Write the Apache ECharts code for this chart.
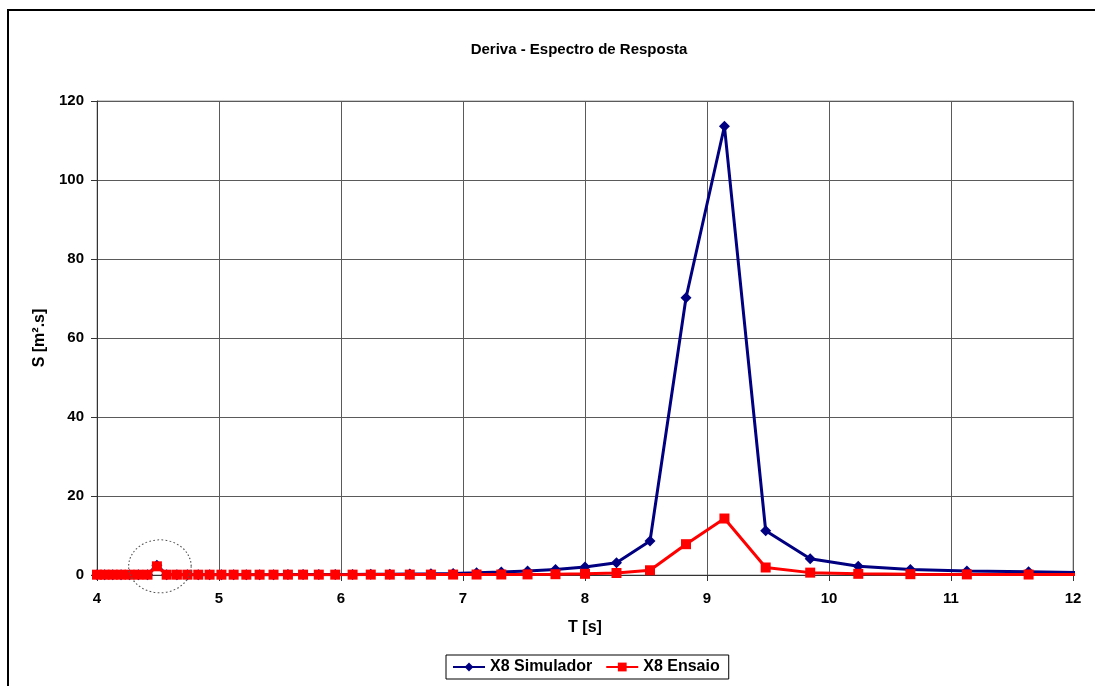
<!DOCTYPE html>
<html>
<head>
<meta charset="utf-8">
<title>Deriva - Espectro de Resposta</title>
<script src="https://cdn.jsdelivr.net/npm/echarts@6/dist/echarts.min.js"></script>
<style>
  html, body { margin: 0; padding: 0; background: #ffffff; }
  #chart { width: 1095px; height: 686px; }
</style>
</head>
<body>
<div id="chart"></div>
<script>
// Periods T [s] of the spectral estimates
const periods = [4.000, 4.063, 4.129, 4.197, 4.267, 4.339, 4.414, 4.491, 4.571, 4.655,
                 4.741, 4.830, 4.923, 5.020, 5.120, 5.224, 5.333, 5.447, 5.565, 5.689,
                 5.818, 5.953, 6.095, 6.244, 6.400, 6.564, 6.737, 6.919, 7.111, 7.314,
                 7.529, 7.758, 8.000, 8.258, 8.533, 8.828, 9.143, 9.481, 9.846, 10.240,
                 10.667, 11.130, 11.636, 12.190];

// Spectral density S [m².s] – simulator
const simulador = [0.05, 0.05, 0.05, 0.05, 0.05, 0.05, 0.06, 2.5, 0.06, 0.06,
                   0.06, 0.07, 0.07, 0.07, 0.08, 0.08, 0.09, 0.09, 0.10, 0.11,
                   0.12, 0.13, 0.15, 0.17, 0.20, 0.24, 0.29, 0.38, 0.55, 0.75,
                   1.0, 1.4, 2.0, 3.1, 8.6, 70.2, 113.6, 11.2, 4.1, 2.2,
                   1.4, 1.0, 0.8, 0.6];

// Spectral density S [m².s] – model test
const ensaio = [0.08, 0.08, 0.08, 0.08, 0.08, 0.08, 0.08, 2.2, 0.08, 0.08,
                0.08, 0.08, 0.08, 0.08, 0.08, 0.08, 0.08, 0.08, 0.09, 0.09,
                0.09, 0.09, 0.09, 0.10, 0.10, 0.10, 0.10, 0.11, 0.12, 0.13,
                0.15, 0.20, 0.30, 0.50, 1.2, 7.8, 14.3, 1.9, 0.6, 0.3,
                0.2, 0.15, 0.12, 0.1];

const seriesNames = ['X8 Simulador', 'X8 Ensaio'];
const xTicks = { min: 4, max: 12, step: 1 };
const yTicks = { min: 0, max: 120, step: 20 };

const FONT = '"Liberation Sans", Arial, sans-serif';

const chart = echarts.init(document.getElementById('chart'), null, { renderer: 'canvas' });

const textBold = { fontFamily: FONT, fontSize: 15, fontWeight: 'bold', color: '#000' };
const textBoldLarge = Object.assign({}, textBold, { fontSize: 16 });

chart.setOption({
  animation: false,
  backgroundColor: '#ffffff',
  title: {
    text: 'Deriva - Espectro de Resposta',
    left: 574,
    textAlign: 'center',
    top: 37,
    textStyle: textBold
  },
  legend: {
    data: seriesNames,
    left: 446,
    top: 655,
    itemWidth: 32,
    itemHeight: 11,
    itemGap: 13,
    padding: [4, 9, 4, 6],
    borderColor: '#000',
    borderWidth: 1,
    textStyle: textBoldLarge
  },
  grid: {
    left: 97,
    right: 22,
    top: 101,
    bottom: 111,
    show: true,
    borderColor: '#9a9a9a',
    borderWidth: 1
  },
  xAxis: {
    type: 'value',
    min: xTicks.min,
    max: xTicks.max,
    interval: xTicks.step,
    name: 'T [s]',
    nameLocation: 'middle',
    nameGap: 45,
    nameTextStyle: textBoldLarge,
    axisLine: { show: true, onZero: false, lineStyle: { color: '#333', width: 1 } },
    axisTick: { show: true, inside: false, length: 6, lineStyle: { color: '#333' } },
    axisLabel: Object.assign({ margin: 16 }, textBold),
    splitLine: { show: true, lineStyle: { color: '#5a5a5a', width: 1 } }
  },
  yAxis: {
    type: 'value',
    min: yTicks.min,
    max: yTicks.max,
    interval: yTicks.step,
    name: 'S [m².s]',
    nameLocation: 'middle',
    nameGap: 48,
    nameRotate: 90,
    nameTextStyle: textBoldLarge,
    axisLine: { show: true, lineStyle: { color: '#333', width: 1 } },
    axisTick: { show: true, inside: false, length: 6, lineStyle: { color: '#333' } },
    axisLabel: Object.assign({ margin: 13 }, textBold),
    splitLine: { show: true, lineStyle: { color: '#5a5a5a', width: 1 } }
  },
  series: [
    {
      name: seriesNames[0],
      type: 'line',
      data: periods.map((t, i) => [t, simulador[i]]),
      symbol: 'diamond',
      symbolSize: 11,
      showAllSymbol: true,
      clip: true,
      z: 2,
      itemStyle: { color: '#000080' },
      lineStyle: { color: '#000080', width: 3 }
    },
    {
      name: seriesNames[1],
      type: 'line',
      data: periods.map((t, i) => [t, ensaio[i]]),
      symbol: 'rect',
      symbolSize: 10,
      showAllSymbol: true,
      clip: true,
      z: 3,
      itemStyle: { color: '#ff0000' },
      lineStyle: { color: '#ff0000', width: 3 }
    }
  ]
});

// Chart frame (open on the right and bottom edges of the page) and the
// dotted ring highlighting the small test peak near T = 4.5 s
const peakIdx = ensaio.indexOf(Math.max(...ensaio.slice(0, 10)));
const peakPx = chart.convertToPixel({ gridIndex: 0 }, [periods[peakIdx], ensaio[peakIdx]]);

chart.setOption({
  graphic: [
    {
      type: 'rect',
      silent: true,
      shape: { x: 8, y: 10, width: 1200, height: 1000 },
      style: { fill: 'none', stroke: '#000', lineWidth: 2 }
    },
    {
      type: 'circle',
      silent: true,
      x: peakPx[0] + 3,
      y: peakPx[1],
      scaleX: 1.18,
      scaleY: 1,
      shape: { cx: 0, cy: 0, r: 26.5 },
      style: { fill: 'none', stroke: '#555', lineWidth: 1, lineDash: [1.5, 2] },
      z: 10
    }
  ]
});
</script>
</body>
</html>
